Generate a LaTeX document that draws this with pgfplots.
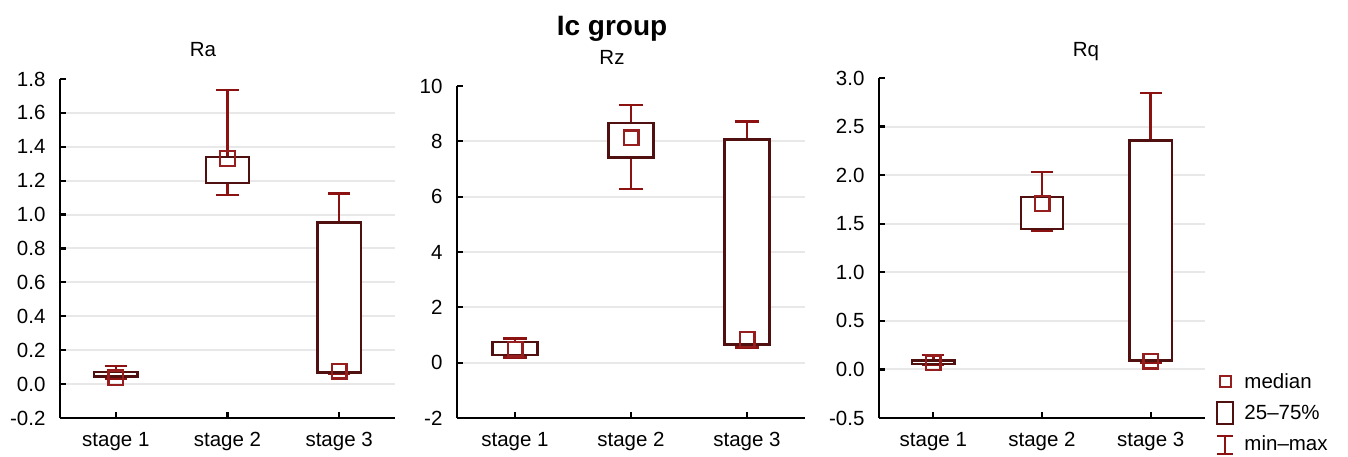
\documentclass[border=0pt]{standalone}
\usepackage{fontspec}
\setmainfont{Liberation Sans}
\usepackage{pgfplots}
\pgfplotsset{compat=1.18}
\usepgfplotslibrary{statistics}
\definecolor{boxc}{RGB}{80,16,16}
\definecolor{whc}{RGB}{140,18,18}
\definecolor{medc}{RGB}{150,30,30}
\definecolor{gridc}{RGB}{232,232,232}
\pgfplotsset{
 myax/.style={
  scale only axis,
  anchor=south west,
  xmin=0.5, xmax=3.5,
  xtick={1,2,3},
  xticklabels={stage 1,stage 2,stage 3},
  axis x line*=bottom, axis y line*=left,
  axis line style={line width=2.4pt, black, -},
  tick align=inside,
  major tick length=6pt,
  major tick style={line width=2.2pt, black},
  minor tick length=0pt,
  yminorgrids=true,
  minor grid style={gridc, line width=2pt},
  tick label style={font=\fontsize{20.5}{24}\selectfont},
  /pgf/number format/assume math mode=true,
  yticklabel style={xshift=-11pt},
  xticklabel style={yshift=-11pt},
  boxplot/draw direction=y,
  boxplot/box extend=0.39,
  boxplot/whisker extend=0.2,
  boxplot/every box/.style={draw=boxc, fill=white, line width=2.4pt},
  boxplot/every whisker/.style={draw=whc, line width=2.4pt},
  boxplot/every median/.style={draw=none},
  clip=false,
 },
 med/.style={only marks, mark=square, mark size=7.3pt, color=medc, mark options={line width=2.4pt, fill=none}, forget plot},
}
\begin{document}
\begin{tikzpicture}
\useasboundingbox (0,0) rectangle (1348pt,457pt);
% ---------- Ra ----------
\begin{axis}[myax, at={(60pt,39pt)}, width=335pt, height=339pt,
  ymin=-0.2, ymax=1.8,
  ytick={-0.2,0,0.2,0.4,0.6,0.8,1.0,1.2,1.4,1.6,1.8},
  minor ytick={0,0.2,0.4,0.6,0.8,1.0,1.2,1.4,1.6},
  yticklabel style={/pgf/number format/.cd, fixed, fixed zerofill, precision=1}]
\addplot[boxc, forget plot, boxplot prepared={draw position=1, lower whisker=0.03, lower quartile=0.045, median=0.038, upper quartile=0.072, upper whisker=0.108}] coordinates {};
\addplot[boxc, forget plot, boxplot prepared={draw position=2, lower whisker=1.115, lower quartile=1.188, median=1.331, upper quartile=1.339, upper whisker=1.734}] coordinates {};
\addplot[boxc, forget plot, boxplot prepared={draw position=3, lower whisker=0.06, lower quartile=0.069, median=0.077, upper quartile=0.954, upper whisker=1.125}] coordinates {};
\addplot[med] coordinates {(1,0.038) (2,1.331) (3,0.077)};
\end{axis}
% ---------- Rz ----------
\begin{axis}[myax, at={(457pt,39pt)}, width=348pt, height=332pt,
  ymin=-2, ymax=10,
  ytick={-2,0,2,4,6,8,10},
  minor ytick={0,2,4,6,8}]
\addplot[boxc, forget plot, boxplot prepared={draw position=1, lower whisker=0.18, lower quartile=0.28, median=0.49, upper quartile=0.74, upper whisker=0.88}] coordinates {};
\addplot[boxc, forget plot, boxplot prepared={draw position=2, lower whisker=6.27, lower quartile=7.41, median=8.13, upper quartile=8.66, upper whisker=9.31}] coordinates {};
\addplot[boxc, forget plot, boxplot prepared={draw position=3, lower whisker=0.55, lower quartile=0.66, median=0.84, upper quartile=8.07, upper whisker=8.72}] coordinates {};
\addplot[med] coordinates {(1,0.49) (2,8.13) (3,0.84)};
\end{axis}
% ---------- Rq ----------
\begin{axis}[myax, at={(879pt,39pt)}, width=326pt, height=340pt,
  ymin=-0.5, ymax=3.0,
  ytick={-0.5,0,0.5,1.0,1.5,2.0,2.5,3.0},
  minor ytick={0,0.5,1.0,1.5,2.0,2.5},
  yticklabel style={/pgf/number format/.cd, fixed, fixed zerofill, precision=1},
  legend style={at={(1.034,-0.11)}, anchor=south west, draw=none, fill=none,
    font=\fontsize{20.5}{24}\selectfont, inner sep=0pt, row sep=9pt, column sep=8pt},
  legend cell align=left]
\addplot[boxc, forget plot, boxplot prepared={draw position=1, lower whisker=0.05, lower quartile=0.055, median=0.069, upper quartile=0.093, upper whisker=0.148}] coordinates {};
\addplot[boxc, forget plot, boxplot prepared={draw position=2, lower whisker=1.427, lower quartile=1.444, median=1.709, upper quartile=1.777, upper whisker=2.035}] coordinates {};
\addplot[boxc, forget plot, boxplot prepared={draw position=3, lower whisker=0.069, lower quartile=0.093, median=0.086, upper quartile=2.355, upper whisker=2.843}] coordinates {};
\addplot[med] coordinates {(1,0.069) (2,1.709) (3,0.086)};
\addlegendimage{legend image code/.code={\draw[medc, line width=2.2pt] (2.5pt,-5.5pt) rectangle (13.5pt,5.5pt);}}
\addlegendentry{median}
\addlegendimage{legend image code/.code={\draw[boxc, line width=2.2pt, fill=white] (0pt,-11pt) rectangle (16pt,11pt);}}
\addlegendentry{25–75\%}
\addlegendimage{legend image code/.code={\draw[whc, line width=2.2pt] (0pt,-10pt) -- (16pt,-10pt) (8pt,-10pt) -- (8pt,8pt) (0pt,8pt) -- (16pt,8pt);}}
\addlegendentry{min–max}
\end{axis}
% ---------- titles ----------
\node[anchor=base, font=\fontsize{28}{32}\selectfont\bfseries] at (612pt,421pt) {Ic group};
\node[anchor=base, font=\fontsize{20.5}{24}\selectfont] at (203pt,400pt) {Ra};
\node[anchor=base, font=\fontsize{20.5}{24}\selectfont] at (612pt,392pt) {Rz};
\node[anchor=base, font=\fontsize{20.5}{24}\selectfont] at (1086pt,400pt) {Rq};
\end{tikzpicture}
\end{document}
